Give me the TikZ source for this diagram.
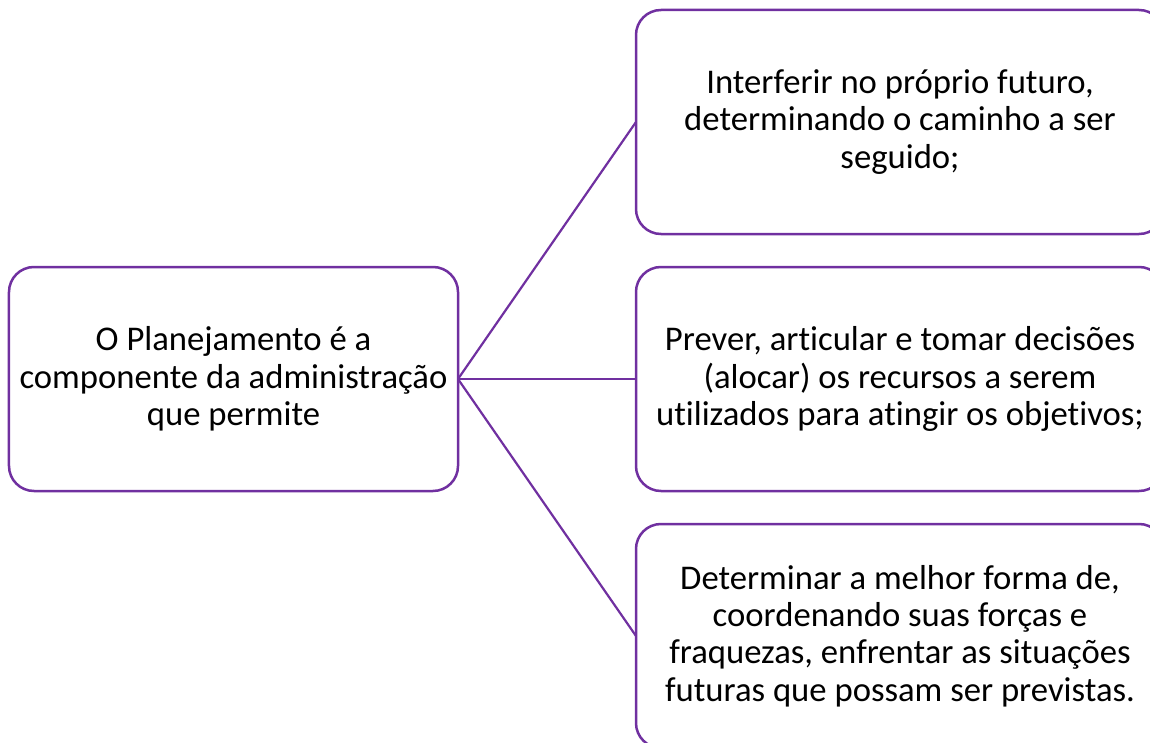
\documentclass[tikz,border=0pt]{standalone}
\usepackage{fontspec}
\setmainfont{Carlito}[Ligatures={NoCommon}]
\definecolor{purp}{HTML}{7030A0}
\begin{document}
\begin{tikzpicture}[x=1bp,y=-1bp,
  box/.style={draw=purp, line width=2.5bp, rounded corners=25bp, align=center, inner sep=0pt, outer sep=0pt,
    font=\fontsize{34.8}{37.5}\selectfont, text=black},
  leftbox/.style={box, minimum width=449bp, minimum height=224bp},
  rightbox/.style={box, minimum width=528bp, minimum height=224bp},
  conn/.style={draw=purp, line width=2.2bp}]
\useasboundingbox (0,0) rectangle (1150,743);
\clip (0,0) rectangle (1150,743);
\node[leftbox] (L) at (233.5,379) {O Planejamento é a\\componente da administração\\que permite};
\node[rightbox] (A) at (900,122) {Interferir no próprio futuro,\\determinando o caminho a ser\\seguido;};
\node[rightbox] (B) at (900,379) {Prever, articular e tomar decisões\\(alocar) os recursos a serem\\utilizados para atingir os objetivos;};
\node[rightbox] (C) at (900,636) {Determinar a melhor forma de,\\coordenando suas forças e\\fraquezas, enfrentar as situações\\futuras que possam ser previstas.};
\draw[conn] (L.east) -- (A.west);
\draw[conn] (L.east) -- (B.west);
\draw[conn] (L.east) -- (C.west);
\end{tikzpicture}
\end{document}
